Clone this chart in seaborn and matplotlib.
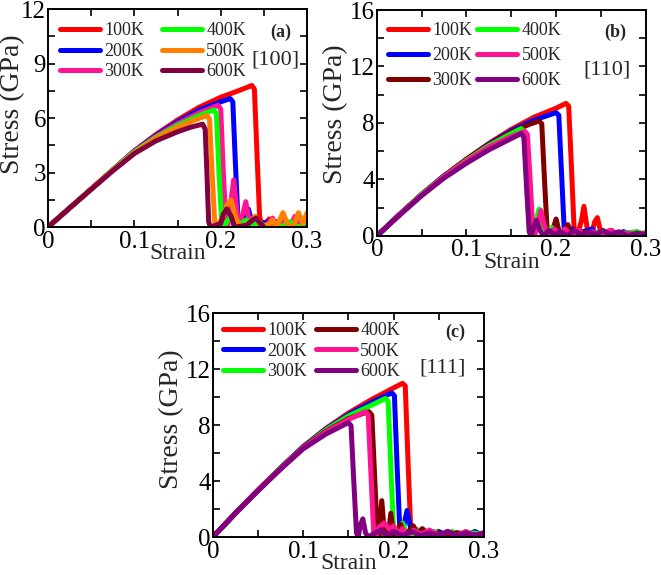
import numpy as np
import pandas as pd
import seaborn as sns
import matplotlib.pyplot as plt
from matplotlib.ticker import MultipleLocator, FuncFormatter

# temperatures shown in every panel
temps = ["100K", "200K", "300K", "400K", "500K", "600K"]

# panel (a) [100]: (strain, stress GPa)
a100 = [(0, 0), (0.025, 1.05), (0.05, 2.1), (0.075, 3.15), (0.1, 4.2), (0.125, 5.1), (0.15, 5.9), (0.175, 6.6),
        (0.2, 7.15), (0.22, 7.5), (0.236, 7.8), (0.239, 7.6), (0.242, 4.0), (0.245, 0.6), (0.248, 0), (0.252, 0.2),
        (0.256, 0.45), (0.26, 0.1), (0.265, 0.3), (0.27, 0.1), (0.28, 0.2), (0.29, 0.1), (0.3, 0.2)]
a200 = [(0, 0), (0.025, 1.05), (0.05, 2.1), (0.075, 3.15), (0.1, 4.2), (0.125, 5.05), (0.15, 5.8), (0.175, 6.45),
        (0.2, 6.9), (0.211, 7.08), (0.214, 6.9), (0.217, 3.5), (0.22, 0.4), (0.223, 0), (0.228, 0.5), (0.232, 1.0),
        (0.236, 0.3), (0.24, 0), (0.25, 0.2), (0.26, 0.4), (0.265, 0.1), (0.275, 0.3), (0.285, 0.1), (0.295, 0.3),
        (0.3, 0.1)]
a300 = [(0, 0), (0.025, 1.05), (0.05, 2.1), (0.075, 3.15), (0.1, 4.18), (0.125, 5.0), (0.15, 5.7), (0.175, 6.3),
        (0.197, 6.71), (0.2, 6.5), (0.203, 3.0), (0.206, 0.3), (0.208, 0), (0.212, 1.5), (0.215, 2.6), (0.218, 1.2),
        (0.221, 0), (0.226, 0.8), (0.229, 1.4), (0.233, 0.3), (0.238, 0), (0.243, 0.4), (0.248, 0), (0.255, 0.2),
        (0.26, 0.5), (0.265, 0), (0.275, 0.3), (0.28, 0), (0.286, 0.6), (0.29, 0), (0.3, 0.2)]
a400 = [(0, 0), (0.025, 1.05), (0.05, 2.1), (0.075, 3.15), (0.1, 4.15), (0.125, 4.95), (0.15, 5.6), (0.175, 6.15),
        (0.192, 6.45), (0.195, 6.25), (0.198, 3.0), (0.201, 0.3), (0.203, 0), (0.21, 0.5), (0.215, 0.8), (0.22, 0.1),
        (0.23, 0.4), (0.235, 0), (0.245, 0.3), (0.25, 0), (0.26, 0.3), (0.27, 0), (0.28, 0.3), (0.29, 0), (0.3, 0.3)]
a500 = [(0, 0), (0.025, 1.05), (0.05, 2.1), (0.075, 3.12), (0.1, 4.1), (0.125, 4.9), (0.15, 5.5), (0.17, 5.9),
        (0.184, 6.15), (0.187, 5.95), (0.19, 3.0), (0.193, 0.3), (0.195, 0), (0.203, 0.6), (0.207, 1.2), (0.212, 1.5),
        (0.217, 0.6), (0.222, 0), (0.232, 0.2), (0.24, 0.6), (0.246, 0.1), (0.255, 0.1), (0.26, 0.4), (0.265, 0),
        (0.272, 0.8), (0.278, 0.1), (0.284, 0), (0.29, 0.8), (0.295, 0.2), (0.3, 0.8)]
a600 = [(0, 0), (0.025, 1.05), (0.05, 2.08), (0.075, 3.1), (0.1, 4.05), (0.125, 4.75), (0.15, 5.25), (0.165, 5.5),
        (0.179, 5.67), (0.182, 5.4), (0.184, 3.0), (0.186, 0.3), (0.188, 0), (0.2, 0.2), (0.203, 0.7), (0.207, 1.0),
        (0.212, 0.6), (0.216, 0), (0.23, 0.1), (0.237, 0.4), (0.241, 0.5), (0.246, 0.2), (0.25, 0)]

# panel (b) [110]
b100 = [(0, 0), (0.025, 1.5), (0.05, 2.95), (0.075, 4.25), (0.1, 5.45), (0.125, 6.55), (0.15, 7.55), (0.175, 8.4),
        (0.2, 9.05), (0.211, 9.39), (0.214, 9.2), (0.217, 5.0), (0.22, 0.6), (0.223, 0), (0.228, 1.0), (0.231, 2.1),
        (0.235, 0.4), (0.239, 0), (0.243, 1.0), (0.246, 1.3), (0.25, 0.2), (0.255, 0), (0.262, 0.4), (0.268, 0),
        (0.275, 0.3), (0.28, 0), (0.29, 0.3), (0.295, 0.1), (0.3, 0.2)]
b200 = [(0, 0), (0.025, 1.5), (0.05, 2.95), (0.075, 4.25), (0.1, 5.4), (0.125, 6.5), (0.15, 7.45), (0.175, 8.2),
        (0.2, 8.73), (0.203, 8.55), (0.206, 4.5), (0.209, 0.5), (0.212, 0), (0.218, 0.5), (0.222, 0.2), (0.23, 0.3),
        (0.24, 0.5), (0.245, 0.1), (0.255, 0.3), (0.265, 0.1), (0.275, 0.3), (0.285, 0.1), (0.3, 0.2)]
b300 = [(0, 0), (0.025, 1.5), (0.05, 2.95), (0.075, 4.25), (0.1, 5.4), (0.125, 6.45), (0.15, 7.35), (0.17, 7.9),
        (0.181, 8.14), (0.184, 7.95), (0.187, 4.0), (0.19, 0.4), (0.192, 0), (0.197, 0.6), (0.2, 1.2), (0.203, 0.4),
        (0.206, 0), (0.21, 0.5), (0.213, 0.8), (0.217, 0.2), (0.222, 0), (0.23, 0.3), (0.24, 0.1), (0.25, 0.3),
        (0.26, 0.1), (0.27, 0.2), (0.28, 0.1), (0.3, 0.2)]
b400 = [(0, 0), (0.025, 1.5), (0.05, 2.95), (0.075, 4.2), (0.1, 5.35), (0.125, 6.4), (0.15, 7.25), (0.161, 7.6),
        (0.164, 7.4), (0.167, 4.0), (0.17, 0.4), (0.172, 0), (0.178, 1.2), (0.181, 1.9), (0.185, 0.8), (0.19, 0.2),
        (0.195, 0.6), (0.2, 0.1), (0.21, 0.4), (0.215, 0), (0.225, 0.3), (0.235, 0), (0.25, 0.3), (0.26, 0.1),
        (0.275, 0.2), (0.29, 0.3), (0.3, 0.1)]
b500 = [(0, 0), (0.025, 1.5), (0.05, 2.9), (0.075, 4.2), (0.1, 5.3), (0.125, 6.3), (0.15, 7.05), (0.165, 7.4),
        (0.168, 7.2), (0.171, 4.0), (0.174, 0.4), (0.176, 0), (0.18, 1.0), (0.183, 1.8), (0.187, 0.7), (0.192, 0.1),
        (0.198, 0.5), (0.203, 0.1), (0.21, 0.5), (0.217, 0), (0.225, 0.4), (0.232, 0), (0.24, 0.3), (0.25, 0.1),
        (0.26, 0.4), (0.27, 0.1), (0.28, 0.2), (0.29, 0.1), (0.3, 0.2)]
b600 = [(0, 0), (0.025, 1.45), (0.05, 2.85), (0.075, 4.1), (0.1, 5.15), (0.125, 6.1), (0.15, 6.9), (0.161, 7.25),
        (0.164, 7.0), (0.167, 3.5), (0.17, 0.3), (0.172, 0), (0.175, 0.6), (0.178, 1.1), (0.182, 0.4), (0.186, 0),
        (0.192, 0.4), (0.198, 0.1), (0.205, 0.3), (0.212, 0), (0.22, 0.4), (0.228, 0.1), (0.235, 0.3), (0.245, 0.1),
        (0.252, 0.4), (0.26, 0.1), (0.27, 0.3), (0.28, 0), (0.29, 0.2), (0.3, 0.1)]

# panel (c) [111]
c100 = [(0, 0), (0.025, 1.7), (0.05, 3.35), (0.075, 4.95), (0.1, 6.45), (0.125, 7.75), (0.15, 8.85), (0.175, 9.8),
        (0.2, 10.65), (0.21, 10.98), (0.213, 10.8), (0.216, 5.5), (0.219, 0.6), (0.221, 0), (0.224, 0.6), (0.23, 0.2),
        (0.24, 0.4), (0.25, 0.1), (0.26, 0.3), (0.27, 0.1), (0.28, 0.3), (0.29, 0.1), (0.3, 0.3)]
c200 = [(0, 0), (0.025, 1.7), (0.05, 3.35), (0.075, 4.95), (0.1, 6.45), (0.125, 7.7), (0.15, 8.75), (0.175, 9.6),
        (0.198, 10.3), (0.201, 10.1), (0.204, 5.0), (0.207, 0.5), (0.209, 0), (0.212, 1.0), (0.215, 1.9), (0.219, 0.6),
        (0.223, 0), (0.23, 0.5), (0.24, 0.1), (0.25, 0.4), (0.26, 0.1), (0.27, 0.3), (0.28, 0.1), (0.29, 0.4),
        (0.3, 0.1)]
c300 = [(0, 0), (0.025, 1.7), (0.05, 3.35), (0.075, 4.95), (0.1, 6.4), (0.125, 7.65), (0.15, 8.65), (0.175, 9.4),
        (0.191, 9.9), (0.194, 9.7), (0.197, 5.0), (0.2, 0.5), (0.202, 0), (0.206, 0.6), (0.21, 1.0), (0.214, 0.3),
        (0.22, 0), (0.228, 0.5), (0.235, 0.1), (0.245, 0.4), (0.255, 0.1), (0.265, 0.4), (0.275, 0.1), (0.285, 0.3),
        (0.3, 0.2)]
c400 = [(0, 0), (0.025, 1.7), (0.05, 3.35), (0.075, 4.9), (0.1, 6.4), (0.125, 7.55), (0.15, 8.45), (0.165, 8.8),
        (0.173, 8.95), (0.176, 8.7), (0.179, 4.5), (0.182, 0.4), (0.184, 0), (0.187, 2.6), (0.19, 0.2), (0.194, 0),
        (0.197, 1.7), (0.2, 0.1), (0.204, 0.4), (0.208, 0.9), (0.212, 0.1), (0.218, 0.5), (0.222, 0.8), (0.226, 0.2),
        (0.232, 0.6), (0.24, 0.1), (0.25, 0.3), (0.26, 0.1), (0.27, 0.3), (0.3, 0.1)]
c500 = [(0, 0), (0.025, 1.7), (0.05, 3.35), (0.075, 4.9), (0.1, 6.35), (0.125, 7.5), (0.15, 8.4), (0.169, 8.95),
        (0.172, 8.7), (0.175, 4.5), (0.178, 0.4), (0.18, 0), (0.184, 0.7), (0.19, 1.0), (0.196, 0.5), (0.2, 0.8),
        (0.205, 0.2), (0.21, 0.6), (0.215, 0.1), (0.222, 0.5), (0.23, 0.2), (0.24, 0.5), (0.25, 0.1), (0.26, 0.4),
        (0.27, 0.1), (0.28, 0.4), (0.29, 0.1), (0.3, 0.3)]
c600 = [(0, 0), (0.025, 1.7), (0.05, 3.3), (0.075, 4.85), (0.1, 6.3), (0.125, 7.35), (0.15, 8.17), (0.153, 7.95),
        (0.156, 4.0), (0.159, 0.3), (0.161, 0), (0.163, 0.8), (0.166, 1.3), (0.169, 0.3), (0.172, 0), (0.18, 0.3),
        (0.186, 0.5), (0.192, 0.1), (0.2, 0.4), (0.21, 0.1), (0.22, 0.4), (0.23, 0.1), (0.24, 0.3), (0.25, 0.1),
        (0.26, 0.4), (0.27, 0.1), (0.28, 0.3), (0.29, 0.1), (0.3, 0.3)]

colors_a = ["#ff0000", "#0000ff", "#ff1493", "#00ff00", "#ff8000", "#800040"]
colors_b = ["#ff0000", "#0000ff", "#800000", "#00ff00", "#ff1493", "#800080"]
colors_c = ["#ff0000", "#0000ff", "#00ff00", "#800000", "#ff1493", "#800080"]


def to_frame(curves):
    rows = []
    for t, pts in zip(temps, curves):
        for e, s in pts:
            rows.append({"strain": e, "stress": s, "T": t})
    return pd.DataFrame(rows)


sns.set_theme(style="ticks")
plt.rcParams["font.family"] = ["Liberation Serif", "DejaVu Serif"]

fig = plt.figure(figsize=(6.61, 5.75), dpi=100)
ax_a = fig.add_axes([0.0726, 0.605, 0.392, 0.379])
ax_b = fig.add_axes([0.570, 0.5896, 0.407, 0.393])
ax_c = fig.add_axes([0.322, 0.066, 0.410, 0.3896])

panels = [
    (ax_a, [a100, a200, a300, a400, a500, a600], colors_a, 12, 3, "(a)", "[100]",
     (0.046, 0.94), 0.2, 1.0, (-0.09, 0.564), (0.90, 0.894), (0.876, 0.766)),
    (ax_b, [b100, b200, b300, b400, b500, b600], colors_b, 16, 4, "(b)", "[110]",
     (0.041, 0.947), 0.45, 0.3, (-0.105, 0.54), (0.885, 0.90), (0.855, 0.735)),
    (ax_c, [c100, c200, c300, c400, c500, c600], colors_c, 16, 4, "(c)", "[111]",
     (0.037, 0.96), 0.2, 0.5, (-0.105, 0.527), (0.893, 0.915), (0.849, 0.754)),
]

for (ax, curves, cols, ymax, ystep, tag, direction, leg_xy, lspace, cspace, ylab_xy, tag_xy, dir_xy) in panels:
    df = to_frame(curves)
    sns.lineplot(data=df, x="strain", y="stress", hue="T", hue_order=temps, palette=cols,
                 sort=False, estimator=None, linewidth=3.6, ax=ax)
    ax.set_xlim(0, 0.3)
    ax.set_ylim(0, ymax)
    ax.xaxis.set_major_locator(MultipleLocator(0.1))
    ax.xaxis.set_minor_locator(MultipleLocator(0.05))
    ax.yaxis.set_major_locator(MultipleLocator(ystep))
    ax.yaxis.set_minor_locator(MultipleLocator(ystep / 2))
    ax.xaxis.set_major_formatter(FuncFormatter(lambda v, p: "0" if abs(v) < 1e-9 else f"{v:.1f}"))
    ax.yaxis.set_major_formatter(FuncFormatter(lambda v, p: f"{v:.0f}"))
    ax.tick_params(which="both", direction="in", top=True, right=True, length=5, width=1.2,
                   labelsize=18, color="black", labelcolor="black")
    ax.tick_params(axis="y", pad=1.5)
    ax.tick_params(axis="x", pad=2.5)
    for sp in ax.spines.values():
        sp.set_linewidth(1.4)
        sp.set_color("black")
    ax.set_xlabel("Strain", fontsize=17, labelpad=-7)
    ax.set_ylabel("Stress (GPa)", fontsize=20)
    ax.yaxis.set_label_coords(*ylab_xy)
    ax.text(*tag_xy, tag, transform=ax.transAxes, fontsize=13, fontweight="bold", ha="center", va="center")
    ax.text(*dir_xy, direction, transform=ax.transAxes, fontsize=16, ha="center", va="center")
    sns.move_legend(ax, "upper left", bbox_to_anchor=leg_xy, ncol=2, frameon=False, title=None,
                    fontsize=13, handlelength=2.2, handletextpad=0.25, labelspacing=lspace,
                    columnspacing=cspace, borderaxespad=0, borderpad=0)
    for h in ax.get_legend().legend_handles:
        h.set_linewidth(3.6)

plt.savefig("out.png", dpi=100)
